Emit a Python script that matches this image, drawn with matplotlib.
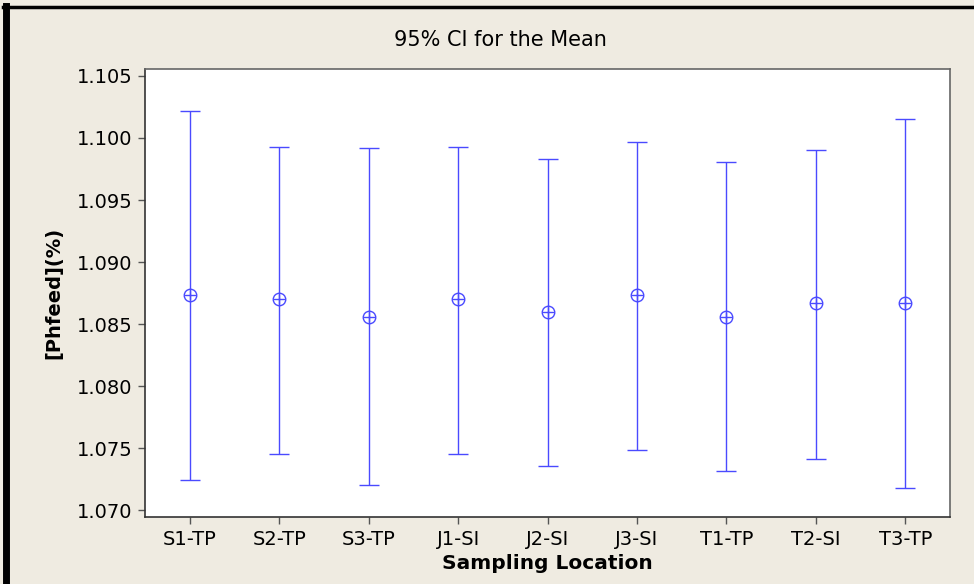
import numpy as np
import matplotlib
matplotlib.use('Agg')
import matplotlib.pyplot as plt
from matplotlib.lines import Line2D

# 95% CI per sampling location
locations = ['S1-TP', 'S2-TP', 'S3-TP', 'J1-SI', 'J2-SI', 'J3-SI', 'T1-TP', 'T2-SI', 'T3-TP']
means = [1.08734, 1.08702, 1.08556, 1.08702, 1.08597, 1.08734, 1.08556, 1.08669, 1.08669]
upper = [1.10218, 1.09927, 1.09919, 1.09927, 1.09831, 1.09968, 1.09806, 1.09903, 1.10153]
lower = [1.07242, 1.07452, 1.07202, 1.07452, 1.07355, 1.07484, 1.07315, 1.07411, 1.07177]

bg = '#efebe1'
blue = '#4a4aff'

fig = plt.figure(figsize=(9.74, 5.84), dpi=100, facecolor=bg)
ax = fig.add_axes([0.1489, 0.1147, 0.8265, 0.7671])
ax.set_facecolor('white')

x = np.arange(1, len(locations) + 1)
m = np.array(means)
yerr = [m - np.array(lower), np.array(upper) - m]
ax.errorbar(x, m, yerr=yerr, fmt='none', ecolor=blue, elinewidth=1.0, capsize=7, capthick=1.0)
ax.plot(x, m, 'o', mfc='none', mec=blue, ms=9, mew=1.0)
ax.plot(x, m, '+', color=blue, ms=9, mew=1.0)

ax.set_xlim(0.5, 9.5)
ax.set_ylim(1.06944, 1.10556)
ax.set_xticks(x)
ax.set_xticklabels(locations, fontsize=14)
yt = np.arange(1.070, 1.1051, 0.005)
ax.set_yticks(yt)
ax.set_yticklabels(['%.3f' % v for v in yt], fontsize=14)
ax.tick_params(direction='out', length=5, width=1, color='#555555', pad=4)

for s in ['left', 'bottom']:
    ax.spines[s].set_color('#333333')
for s in ['top', 'right']:
    ax.spines[s].set_color('#666666')
for s in ax.spines.values():
    s.set_linewidth(1.2)

ax.set_xlabel('Sampling Location', fontsize=14.5, fontweight='bold', labelpad=4)
ax.set_ylabel('[Phfeed](%)', fontsize=14, fontweight='bold', labelpad=10)
fig.text(500 / 974, 1 - 40 / 584, '95% CI for the Mean', ha='center', va='center', fontsize=15)

# black frame on top and left edges
fig.add_artist(Line2D([0.006, 0.006], [0, 0.99], transform=fig.transFigure, color='black', lw=5))
fig.add_artist(Line2D([0.003, 1], [0.988, 0.988], transform=fig.transFigure, color='black', lw=2.5))

fig.savefig('out.png', dpi=100, facecolor=bg)
